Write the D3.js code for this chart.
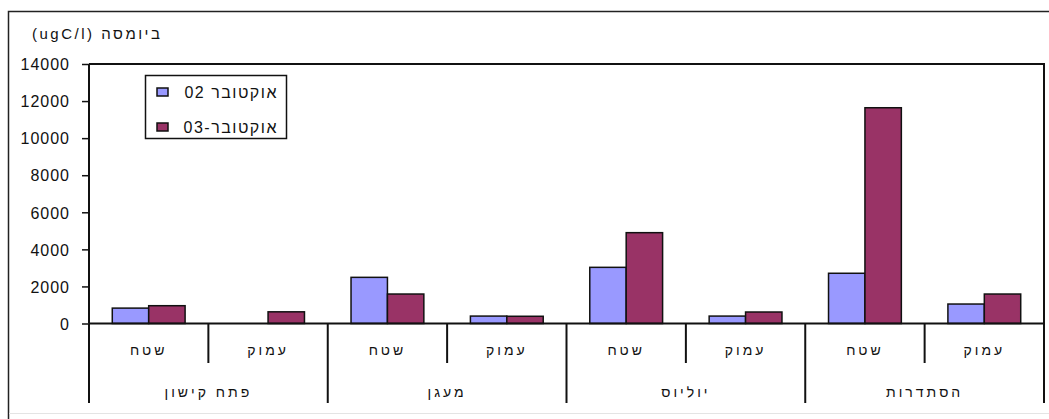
<!DOCTYPE html>
<html><head><meta charset="utf-8">
<script src="https://cdn.jsdelivr.net/npm/d3@7"></script>
<style>body{margin:0;background:#fff}svg{display:block}</style>
</head><body>
<script>
const groups = ["פתח קישון","מעגן","יוליוס","הסתדרות"];
const subLabels = ["שטח","עמוק"];
const categories = ["פתח קישון|שטח","פתח קישון|עמוק","מעגן|שטח","מעגן|עמוק","יוליוס|שטח","יוליוס|עמוק","הסתדרות|שטח","הסתדרות|עמוק"];
const seriesNames = ["אוקטובר 02","אוקטובר-03"];
const oct02 = [830, 0, 2490, 400, 3030, 400, 2710, 1050];
const oct03 = [960, 630, 1590, 390, 4900, 620, 11640, 1590];
const yTicks = [0,2000,4000,6000,8000,10000,12000,14000];
const yTitle = "(ugC/l) ביומסה";
const colors = ["#9999FF","#993366"];

const W=1049,H=419;
const svg=d3.select("body").append("svg").attr("width",W).attr("height",H);
const font="Liberation Sans, Arial, sans-serif";
const m={l:89,r:1044,t:64,b:323.5};

// outer frame
svg.append("path").attr("d",`M8.5,${H} L8.5,11.5 L${W},11.5`).attr("fill","none").attr("stroke","#222").attr("stroke-width",1.5);
svg.append("line").attr("x1",9).attr("x2",W).attr("y1",413.5).attr("y2",413.5).attr("stroke","#e4e4e4").attr("stroke-width",1);

const x=d3.scaleBand().domain(categories).range([m.l,m.r]).paddingInner(0).paddingOuter(0);
const y=d3.scaleLinear().domain([0,14000]).range([m.b,m.t]);
const bw=x.bandwidth()*0.305;

// plot border top/right
svg.append("path").attr("d",`M${m.l},${m.t} L${m.r},${m.t} L${m.r},403`).attr("fill","none").attr("stroke","#111").attr("stroke-width",2);

// bars
const series=[oct02,oct03];
series.forEach((vals,si)=>{
  svg.append("g").selectAll("rect").data(categories.map((c,i)=>({c,v:vals[i]})).filter(d=>d.v>0))
   .join("rect")
   .attr("x",d=>x(d.c)+x.bandwidth()/2+(si-1)*bw)
   .attr("y",d=>y(d.v))
   .attr("width",bw).attr("height",d=>m.b-y(d.v))
   .attr("fill",colors[si]).attr("stroke","#111").attr("stroke-width",1.5);
});

// y axis
const ya=svg.append("g").attr("transform",`translate(${m.l},0)`)
  .call(d3.axisLeft(y).tickValues(yTicks).tickSize(7).tickPadding(12).tickFormat(d3.format("d")));
ya.select(".domain").attr("stroke","#111").attr("stroke-width",2).attr("d",`M0,${m.t}V${m.b}`);
ya.selectAll(".tick line").attr("stroke","#111").attr("stroke-width",1.5);
ya.selectAll(".tick text").attr("font-family",font).attr("font-size",16).attr("letter-spacing","1px").attr("fill","#111").attr("dy","0.36em");

// x baseline
svg.append("line").attr("x1",m.l).attr("x2",m.r).attr("y1",m.b).attr("y2",m.b).attr("stroke","#111").attr("stroke-width",2);

// x axis labels
const xa=svg.append("g").attr("transform",`translate(0,${m.b})`)
  .call(d3.axisBottom(x).tickSize(0).tickFormat(d=>d.split("|")[1]).tickPadding(22));
xa.select(".domain").remove();
xa.selectAll(".tick text").attr("font-family",font).attr("font-size",14).attr("fill","#111").attr("letter-spacing","3px").attr("dy","0.71em");
categories.forEach((c,i)=>{
  const xx=x(c);
  const isGroup=i%2===0;
  svg.append("line").attr("x1",xx).attr("x2",xx).attr("y1",m.b).attr("y2",isGroup?403:363)
    .attr("stroke","#111").attr("stroke-width",2);
});
// group labels
const gx=d3.scaleBand().domain(groups).range([m.l,m.r]);
svg.append("g").selectAll("text").data(groups).join("text")
  .attr("x",d=>gx(d)+gx.bandwidth()/2).attr("y",397)
  .attr("text-anchor","middle").attr("font-family",font).attr("font-size",14).attr("letter-spacing","3px").attr("fill","#111")
  .text(d=>d);

// y title
svg.append("text").attr("x",32).attr("y",39).attr("font-family",font).attr("font-size",15).attr("letter-spacing","2.5px").attr("fill","#111").text(yTitle);

// legend
const lg=svg.append("g");
lg.append("rect").attr("x",145.5).attr("y",75.5).attr("width",141).attr("height",63).attr("fill","#fff").attr("stroke","#111").attr("stroke-width",1.5);
seriesNames.forEach((n,i)=>{
  const yy=92+i*35;
  lg.append("rect").attr("x",157).attr("y",yy-4).attr("width",11).attr("height",8).attr("fill",colors[i]).attr("stroke","#111").attr("stroke-width",1.5);
  lg.append("text").attr("x",278).attr("y",yy+6).attr("direction","rtl").attr("text-anchor","start")
    .attr("font-family",font).attr("font-size",16).attr("letter-spacing","1.5px").attr("fill","#111").text(n);
});
</script>
</body></html>
